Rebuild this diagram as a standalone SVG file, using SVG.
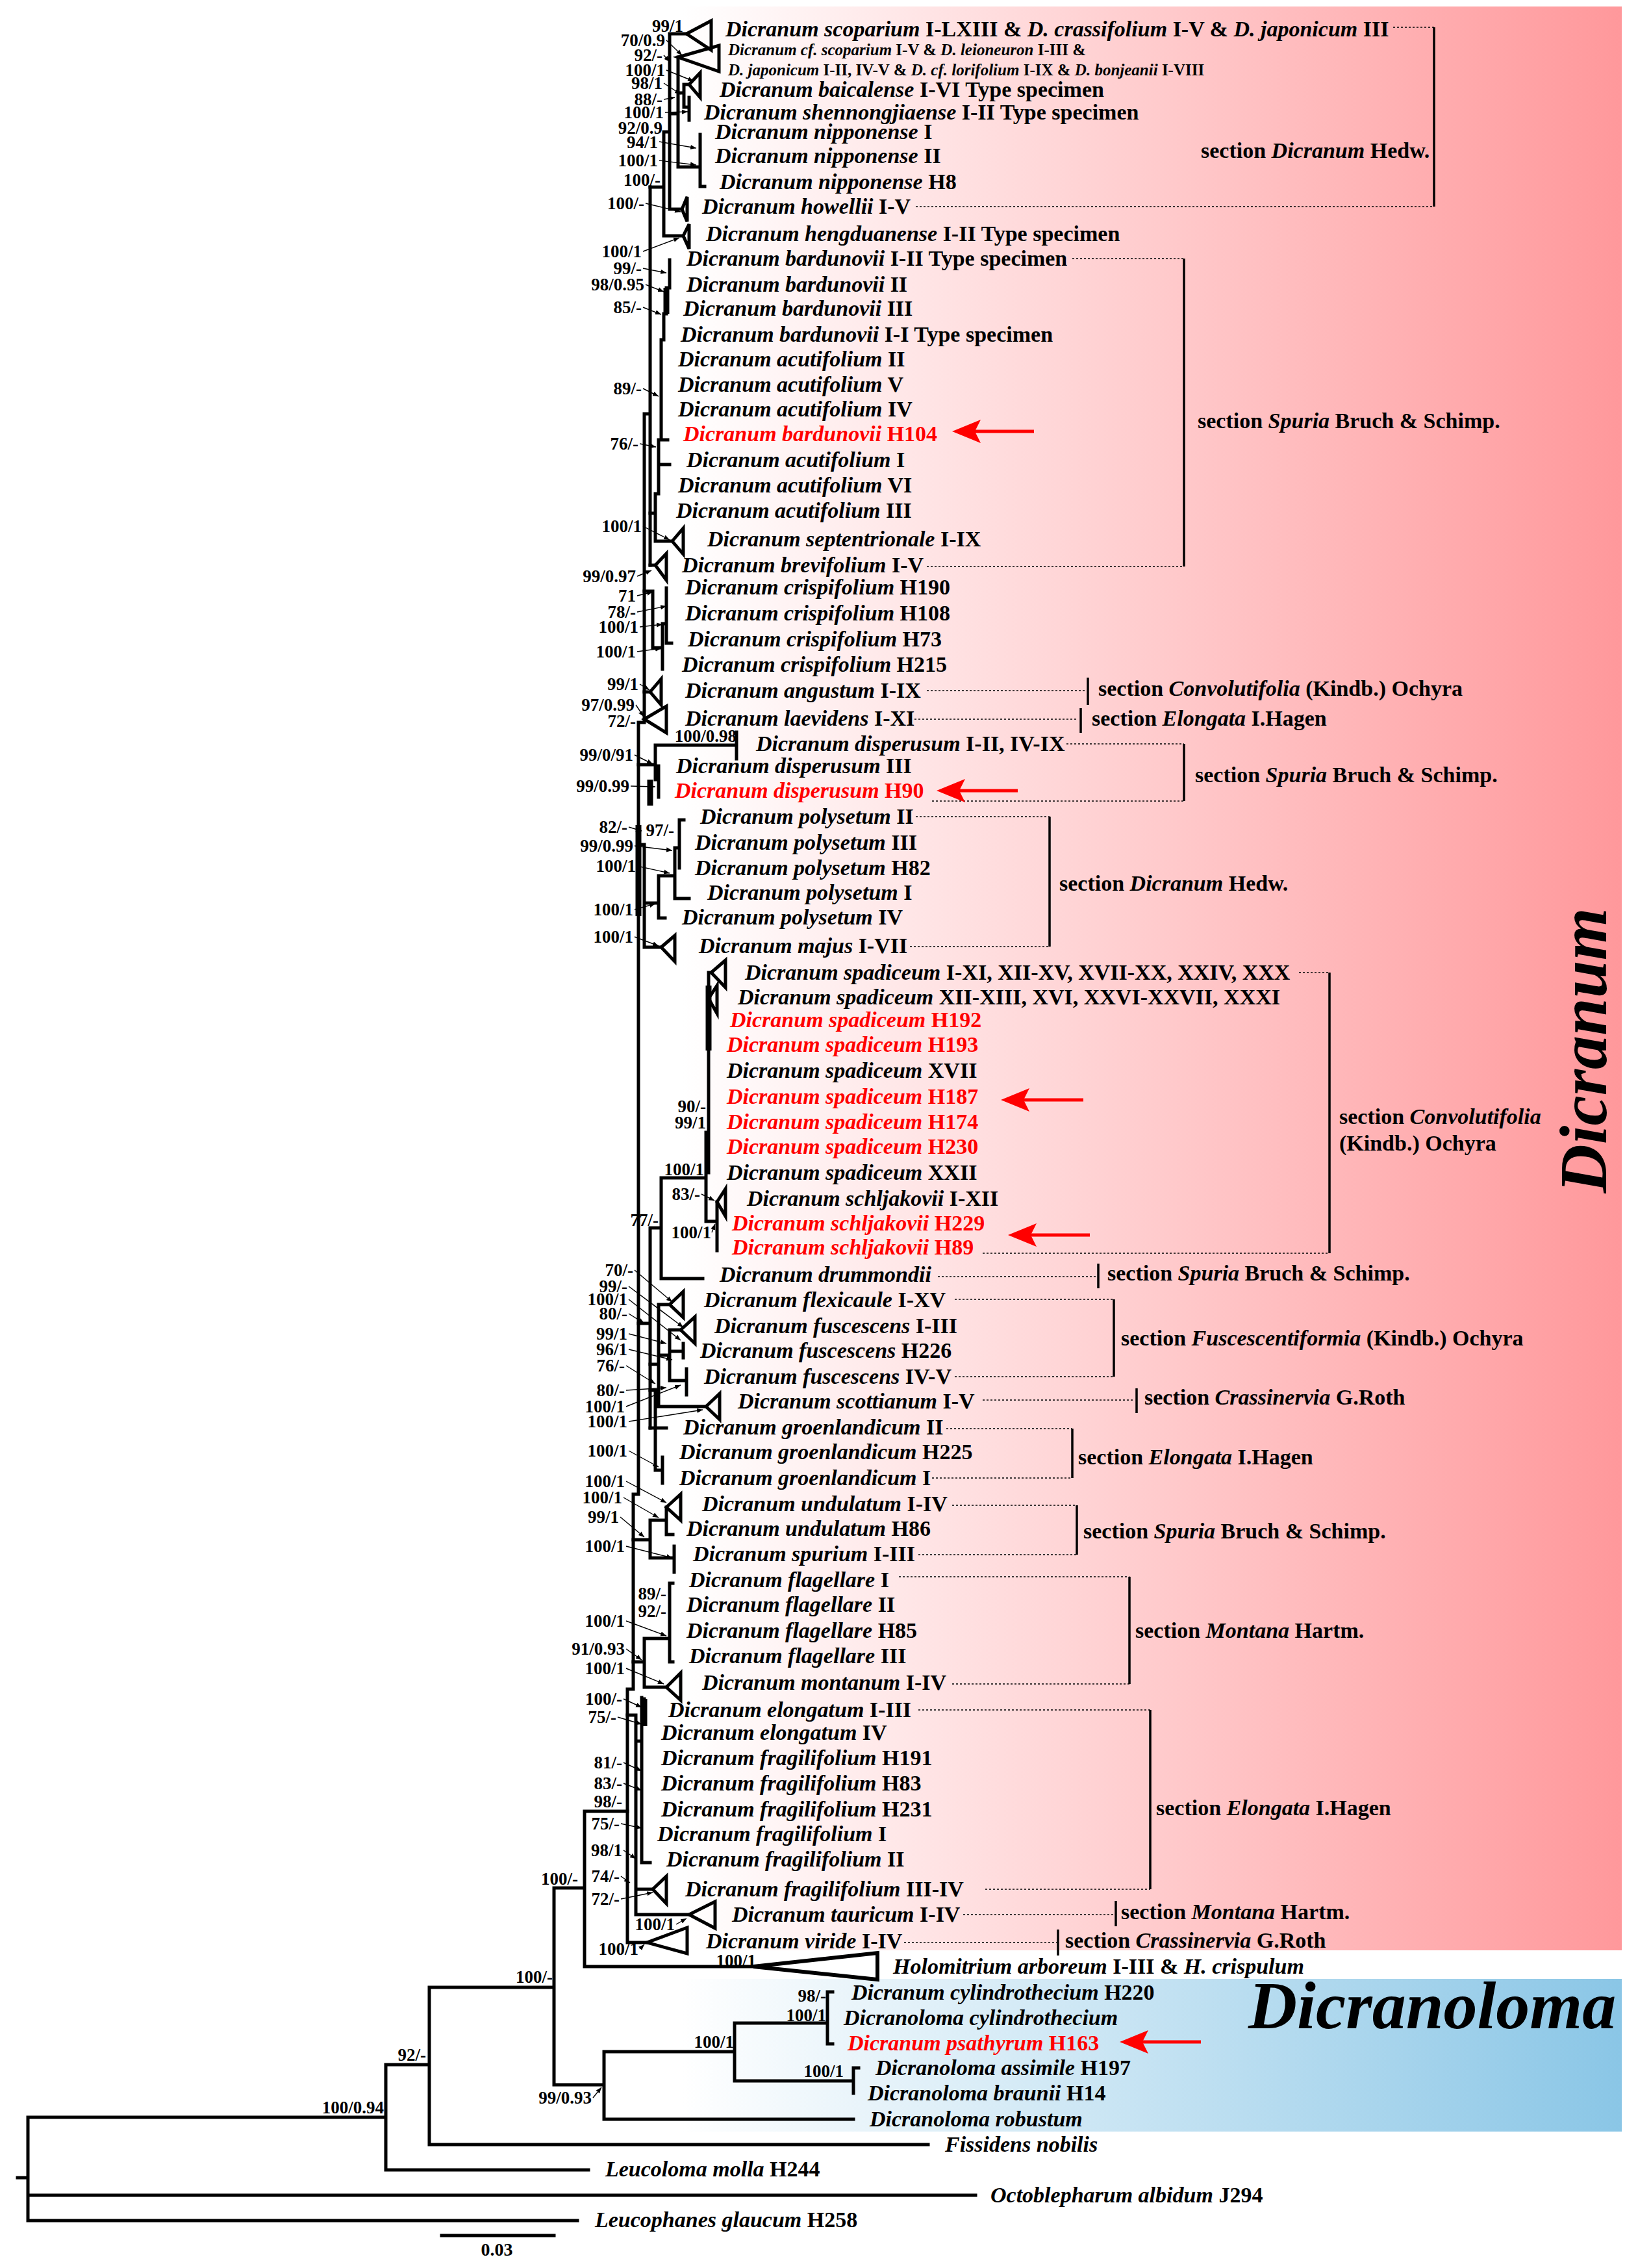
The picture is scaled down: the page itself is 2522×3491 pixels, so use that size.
<svg xmlns="http://www.w3.org/2000/svg" width="2522" height="3491" viewBox="0 0 2522 3491">
<defs>
<linearGradient id="gp" x1="1050" y1="0" x2="2497" y2="0" gradientUnits="userSpaceOnUse"><stop offset="0" stop-color="#ffffff"/><stop offset="1" stop-color="#ff989b"/></linearGradient>
<linearGradient id="gb" x1="1050" y1="0" x2="2497" y2="0" gradientUnits="userSpaceOnUse"><stop offset="0" stop-color="#ffffff"/><stop offset="1" stop-color="#8ac6e6"/></linearGradient>
<marker id="ah" viewBox="0 0 10 10" refX="10" refY="5" markerWidth="9" markerHeight="9" orient="auto" markerUnits="userSpaceOnUse"><path d="M0,1 L10,5 L0,9 z" fill="#000"/></marker>
<style>
text{font-family:"Liberation Serif","Times New Roman",serif;font-weight:bold;fill:#000}
.lf{font-size:34px}
.ls{font-size:25px}
.i{font-style:italic}
.red{fill:#ff0000}
.s{font-size:27px;text-anchor:end}
.br{fill:none;stroke:#000;stroke-width:5;stroke-linecap:square}
.tk{fill:none;stroke:#000;stroke-width:9}
.tri{fill:none;stroke:#000;stroke-width:5;stroke-linejoin:miter}
.ar{fill:none;stroke:#000;stroke-width:1.4;marker-end:url(#ah)}
.dot{fill:none;stroke:#000;stroke-width:1.6;stroke-dasharray:3 3}
.bk{fill:none;stroke:#000;stroke-width:3.5}
.sec{font-size:34px}
.big{font-size:104px;font-style:italic}
.rar{fill:#ff0000}
.rsh{stroke:#ff0000;stroke-width:5}
</style>
</defs>
<rect width="2522" height="3491" fill="#ffffff"/>
<rect x="900" y="10" width="1597" height="2992" fill="url(#gp)"/>
<rect x="900" y="3046" width="1597" height="235" fill="url(#gb)"/>

<g id="connectors">
<path class="br" d="M27,3352H43 M43,3259V3418 M43,3259H594 M43,3379H1502 M43,3418H889 M594,3178V3340 M594,3340H906 M594,3178H661 M661,3059V3301 M661,3301H1429 M661,3059H853 M853,2906V3209 M853,2906H900 M853,3209H930 M930,3158V3262 M930,3158H1131 M930,3262H1314 M1131,3114V3203 M1131,3114H1274 M1131,3203H1314 M1282,3066H1274V3146H1282 M1322,3183H1314V3222 M900,2788V3027 M900,3027H1160 M900,2788H966"/>
<path class="br" d="M1001,288V870 M1001,637H992V1112H983V2300H975V2600H966V2990H996"/>
<path class="br" d="M1001,288H1022 M1022,203V363 M1022,363H1052 M1022,203H1031 M1031,52V322 M1031,52H1057 M1031,322H1050 M1031,175H1044 M1044,88V257 M1044,257H1078 M1078,207V287H1085 M1044,143H1053 M1053,130V165 M1053,130H1061 M1053,165H1061 M1061,150V185"/>
<path class="br" d="M1031,400V443H1026V483H1022V523H1018V677H1014V760H1009V833 M1018,677H1028 M1014,715H1031 M1009,833H1035 M1001,790H1009 M1001,870H1009"/>
<path class="br" d="M992,910H1005V997H1020 M1020,960V1030 M1020,960H1026 M1026,905V990H1034 M992,1065H1001"/>
<path class="br" d="M983,1177H1009 M1009,1147V1200 M1009,1147H1134 M1134,1127V1168 M1009,1200H1014 M1014,1179V1227"/>
<path class="br" d="M983,1300H992V1458 M992,1390H1014 M1014,1348V1413H1024 M1014,1348H1039 M1039,1305V1383H1061 M1039,1305H1046 M1046,1262V1336 M1046,1262H1053 M992,1458H1018"/>
<path class="br" d="M983,2037H1001 M1001,1890V2198 M1001,1890H1018 M1018,1813V1968 M1018,1968H1082 M1018,1813H1087 M1087,1743V1880 M1087,1743H1091 M1091,1497V1805 M1091,1497H1095 M1087,1880H1104 M1104,1850V1925"/>
<path class="br" d="M1001,2100H1014 M1014,2008V2165 M1014,2008H1031 M1014,2086H1031 M1031,2047V2125 M1031,2047H1048 M1031,2080H1052 M1052,2068V2090 M1031,2125H1057 M1057,2107V2147 M1014,2165H1087 M1001,2198H1026 M1001,2140H1009 M1009,2140V2263H1020 M1020,2243V2283"/>
<path class="br" d="M975,2370H1001 M1001,2340V2398 M1001,2340H1026 M1026,2320V2362H1036 M1001,2398H1038 M1038,2380V2420 M975,2558H992 M992,2522V2597 M992,2522H1031 M1036,2437H1031V2558H1036 M992,2597H1026"/>
<path class="br" d="M966,2640H979 M979,2640V2947 M979,2947H1061 M979,2680H988 M988,2613V2867H1001 M988,2615H992 M979,2908H1005"/>
<path class="tk" d="M1091,1517V1617 M983,1270V1410 M992,2615V2657 M1001,1200V1240 M1026,443V483"/>
<g class="tri">
<path d="M1057,52L1095,32L1095,77Z"/>
<path d="M1044,88L1107,70L1107,110Z"/>
<path d="M1061,130L1078,112L1078,150Z"/>
<path d="M1050,322L1058,303L1058,341Z"/>
<path d="M1052,363L1061,345L1061,383Z"/>
<path d="M1035,833L1052,813L1052,853Z"/>
<path d="M1009,870L1026,852L1026,893Z"/>
<path d="M1001,1065L1018,1045L1018,1085Z"/>
<path d="M992,1107L1026,1087L1026,1128Z"/>
<path d="M1018,1458L1039,1440L1039,1480Z"/>
<path d="M1095,1497L1117,1478L1117,1520Z"/>
<path d="M1091,1537L1104,1517L1104,1560Z"/>
<path d="M1104,1850L1117,1830L1117,1872Z"/>
<path d="M1031,2008L1052,1988L1052,2028Z"/>
<path d="M1048,2047L1070,2027L1070,2068Z"/>
<path d="M1087,2165L1108,2145L1108,2185Z"/>
<path d="M1026,2320L1048,2300L1048,2340Z"/>
<path d="M1026,2597L1048,2575L1048,2617Z"/>
<path d="M1005,2908L1026,2888L1026,2930Z"/>
<path d="M1061,2947L1101,2927L1101,2968Z"/>
<path d="M996,2990L1058,2967L1058,3007Z"/>
<path d="M1160,3027L1351,3006L1351,3047Z" stroke-width="6"/>
</g>
<g id="support-arrows">
<path class="ar" d="M1026,62L1050,85"/><path class="ar" d="M1022,85L1031,95"/><path class="ar" d="M1026,108L1068,125"/><path class="ar" d="M1022,128L1048,145"/><path class="ar" d="M1022,153L1039,150"/><path class="ar" d="M1024,173L1059,172"/><path class="ar" d="M1015,218L1072,228"/><path class="ar" d="M1015,247L1072,254"/><path class="ar" d="M994,313L1048,326"/><path class="ar" d="M990,387L1046,366"/>
<path class="ar" d="M990,413L1026,420"/><path class="ar" d="M994,438L1022,449"/><path class="ar" d="M990,473L1018,484"/><path class="ar" d="M990,598L1014,610"/><path class="ar" d="M985,683L1010,688"/><path class="ar" d="M990,810L1031,831"/><path class="ar" d="M981,887L1003,878"/><path class="ar" d="M981,917L1005,911"/><path class="ar" d="M981,942L1026,933"/><path class="ar" d="M985,965L1020,961"/><path class="ar" d="M981,1003L1018,998"/><path class="ar" d="M985,1053L1000,1062"/><path class="ar" d="M979,1085L991,1103"/>
<path class="ar" d="M977,1162L1005,1176"/><path class="ar" d="M971,1210L1009,1211"/><path class="ar" d="M968,1273L988,1279"/><path class="ar" d="M977,1302L1035,1309"/><path class="ar" d="M981,1333L1031,1344"/><path class="ar" d="M977,1400L1009,1391"/><path class="ar" d="M977,1442L1014,1456"/><path class="ar" d="M1080,1838L1100,1848"/><path class="ar" d="M1096,1897L1101,1884"/>
<path class="ar" d="M977,1955L1035,2004"/><path class="ar" d="M968,1980L1052,2043"/><path class="ar" d="M968,2000L1048,2063"/><path class="ar" d="M968,2022L992,2037"/><path class="ar" d="M968,2053L1026,2068"/><path class="ar" d="M968,2077L1035,2093"/><path class="ar" d="M964,2102L1009,2130"/><path class="ar" d="M964,2140L1026,2136"/><path class="ar" d="M964,2165L1048,2132"/><path class="ar" d="M968,2188L1082,2170"/><path class="ar" d="M968,2233L1014,2258"/><path class="ar" d="M964,2280L1026,2313"/><path class="ar" d="M960,2305L1014,2336"/><path class="ar" d="M955,2335L992,2366"/><path class="ar" d="M964,2380L1035,2398"/>
<path class="ar" d="M964,2495L1026,2518"/><path class="ar" d="M964,2538L988,2555"/><path class="ar" d="M964,2568L1022,2592"/><path class="ar" d="M960,2615L988,2628"/><path class="ar" d="M951,2643L988,2654"/><path class="ar" d="M960,2713L988,2726"/><path class="ar" d="M960,2745L988,2756"/><path class="ar" d="M956,2807L988,2814"/><path class="ar" d="M960,2848L979,2861"/><path class="ar" d="M956,2888L970,2898"/><path class="ar" d="M956,2923L1005,2913"/><path class="ar" d="M1041,2962L1057,2953"/><path class="ar" d="M985,3000L992,2993"/><path class="ar" d="M913,3229L926,3213"/>
</g>
<g id="section-brackets">
<path class="dot" d="M2145,42H2208 M1410,318H2208 M1651,398H1823 M1427,872H1823 M1427,1063H1670 M1408,1107H1660 M1642,1145H1823 M1435,1233H1823 M1410,1257H1616 M1401,1457H1616 M2000,1497H2047 M1513,1929H2047 M1444,1965H1688 M1470,2000H1715 M1470,2119H1715 M1513,2155H1747 M1457,2199H1651 M1435,2275H1651 M1466,2317H1658 M1414,2393H1658 M1384,2427H1739 M1466,2592H1739 M1414,2632H1771 M1517,2908H1771 M1483,2947H1716 M1392,2990H1627"/>
<path class="bk" d="M2208,42V318 M1823,398V872 M1675,1043V1085 M1664,1090V1128 M1823,1145V1233 M1616,1257V1457 M2047,1497V1929 M1691,1945V1983 M1715,2000V2119 M1750,2137V2175 M1651,2199V2275 M1658,2317V2393 M1739,2427V2592 M1771,2632V2908 M1718,2926V2965 M1629,2970V3010"/>
</g>
</g>

<g id="support-values">
<text class="s" x="1052" y="49">99/1</text><text class="s" x="1024" y="71">70/0.9</text><text class="s" x="1020" y="94">92/-</text><text class="s" x="1024" y="117">100/1</text><text class="s" x="1020" y="137">98/1</text><text class="s" x="1020" y="162">88/-</text><text class="s" x="1022" y="182">100/1</text><text class="s" x="1020" y="206">92/0.9</text><text class="s" x="1013" y="228">94/1</text><text class="s" x="1013" y="256">100/1</text><text class="s" x="1017" y="286">100/-</text><text class="s" x="992" y="322">100/-</text><text class="s" x="988" y="396">100/1</text>
<text class="s" x="988" y="422">99/-</text><text class="s" x="992" y="447">98/0.95</text><text class="s" x="988" y="482">85/-</text><text class="s" x="988" y="607">89/-</text><text class="s" x="983" y="692">76/-</text><text class="s" x="988" y="819">100/1</text><text class="s" x="979" y="896">99/0.97</text><text class="s" x="979" y="926">71</text><text class="s" x="979" y="951">78/-</text><text class="s" x="983" y="974">100/1</text><text class="s" x="979" y="1012">100/1</text><text class="s" x="983" y="1062">99/1</text><text class="s" x="977" y="1094">97/0.99</text><text class="s" x="979" y="1119">72/-</text>
<text class="s" x="1134" y="1142">100/0.98</text><text class="s" x="975" y="1171">99/0/91</text><text class="s" x="969" y="1219">99/0.99</text><text class="s" x="966" y="1282">82/-</text><text class="s" x="1038" y="1287">97/-</text><text class="s" x="975" y="1311">99/0.99</text><text class="s" x="979" y="1342">100/1</text><text class="s" x="975" y="1409">100/1</text><text class="s" x="975" y="1451">100/1</text>
<text class="s" x="1087" y="1712">90/-</text><text class="s" x="1087" y="1737">99/1</text><text class="s" x="1084" y="1809">100/1</text><text class="s" x="1078" y="1847">83/-</text><text class="s" x="1014" y="1887">77/-</text><text class="s" x="1095" y="1906">100/1</text>
<text class="s" x="975" y="1964">70/-</text><text class="s" x="966" y="1989">99/-</text><text class="s" x="966" y="2009">100/1</text><text class="s" x="966" y="2031">80/-</text><text class="s" x="966" y="2062">99/1</text><text class="s" x="966" y="2086">96/1</text><text class="s" x="962" y="2111">76/-</text><text class="s" x="962" y="2149">80/-</text><text class="s" x="962" y="2174">100/1</text><text class="s" x="966" y="2197">100/1</text><text class="s" x="966" y="2242">100/1</text><text class="s" x="962" y="2289">100/1</text><text class="s" x="958" y="2314">100/1</text><text class="s" x="953" y="2344">99/1</text><text class="s" x="962" y="2389">100/1</text>
<text class="s" x="1026" y="2462">89/-</text><text class="s" x="1026" y="2489">92/-</text><text class="s" x="962" y="2504">100/1</text><text class="s" x="962" y="2547">91/0.93</text><text class="s" x="962" y="2577">100/1</text><text class="s" x="958" y="2624">100/-</text><text class="s" x="949" y="2652">75/-</text><text class="s" x="958" y="2722">81/-</text><text class="s" x="958" y="2754">83/-</text><text class="s" x="958" y="2782">98/-</text><text class="s" x="954" y="2816">75/-</text><text class="s" x="958" y="2857">98/1</text><text class="s" x="954" y="2897">74/-</text><text class="s" x="954" y="2932">72/-</text><text class="s" x="890" y="2901">100/-</text><text class="s" x="1039" y="2971">100/1</text><text class="s" x="983" y="3009">100/1</text><text class="s" x="1164" y="3027">100/1</text>
<text class="s" x="1272" y="3081">98/-</text><text class="s" x="1272" y="3111">100/1</text><text class="s" x="1130" y="3152">100/1</text><text class="s" x="1299" y="3197">100/1</text><text class="s" x="911" y="3238">99/0.93</text><text class="s" x="851" y="3052">100/-</text><text class="s" x="656" y="3172">92/-</text><text class="s" x="591" y="3253">100/0.94</text>
</g>

<g id="leaves">
<g id="n01"><text class="lf" x="1117" y="56"><tspan class="i">Dicranum scoparium</tspan> I-LXIII &amp; <tspan class="i">D. crassifolium</tspan> I-V &amp; <tspan class="i">D. japonicum</tspan> III</text></g>
<g id="n02"><text class="ls" x="1121" y="85"><tspan class="i">Dicranum cf. scoparium</tspan> I-V &amp; <tspan class="i">D. leioneuron</tspan> I-III &amp;</text></g>
<g id="n03"><text class="ls" x="1121" y="116"><tspan class="i">D. japonicum</tspan> I-II, IV-V &amp; <tspan class="i">D. cf. lorifolium</tspan>  I-IX &amp; <tspan class="i">D. bonjeanii</tspan> I-VIII</text></g>
<g id="n04"><text class="lf" x="1108" y="149"><tspan class="i">Dicranum baicalense</tspan> I-VI Type specimen</text></g>
<g id="n05"><text class="lf" x="1084" y="184"><tspan class="i">Dicranum shennongjiaense</tspan> I-II Type specimen</text></g>
<g id="n06"><text class="lf" x="1101" y="214"><tspan class="i">Dicranum nipponense</tspan> I</text></g>
<g id="n07"><text class="lf" x="1101" y="251"><tspan class="i">Dicranum nipponense</tspan> II</text></g>
<g id="n08"><text class="lf" x="1108" y="291"><tspan class="i">Dicranum nipponense</tspan> H8</text></g>
<g id="n09"><text class="lf" x="1081" y="329"><tspan class="i">Dicranum howellii</tspan> I-V</text></g>
<g id="n10"><text class="lf" x="1087" y="371"><tspan class="i">Dicranum hengduanense</tspan> I-II Type specimen</text></g>
<g id="n11"><text class="lf" x="1057" y="409"><tspan class="i">Dicranum bardunovii</tspan> I-II Type specimen</text></g>
<g id="n12"><text class="lf" x="1057" y="449"><tspan class="i">Dicranum bardunovii</tspan> II</text></g>
<g id="n13"><text class="lf" x="1052" y="486"><tspan class="i">Dicranum bardunovii</tspan> III</text></g>
<g id="n14"><text class="lf" x="1048" y="526"><tspan class="i">Dicranum bardunovii</tspan> I-I Type specimen</text></g>
<g id="n15"><text class="lf" x="1044" y="564"><tspan class="i">Dicranum acutifolium</tspan> II</text></g>
<g id="n16"><text class="lf" x="1044" y="603"><tspan class="i">Dicranum acutifolium</tspan> V</text></g>
<g id="n17"><text class="lf" x="1044" y="641"><tspan class="i">Dicranum acutifolium</tspan> IV</text></g>
<g id="n18"><text class="lf red" x="1052" y="679"><tspan class="i">Dicranum bardunovii</tspan> H104</text></g>
<g id="n19"><text class="lf" x="1057" y="719"><tspan class="i">Dicranum acutifolium</tspan> I</text></g>
<g id="n20"><text class="lf" x="1044" y="758"><tspan class="i">Dicranum acutifolium</tspan> VI</text></g>
<g id="n21"><text class="lf" x="1041" y="797"><tspan class="i">Dicranum acutifolium</tspan> III</text></g>
<g id="n22"><text class="lf" x="1089" y="841"><tspan class="i">Dicranum septentrionale</tspan> I-IX</text></g>
<g id="n23"><text class="lf" x="1050" y="881"><tspan class="i">Dicranum brevifolium</tspan> I-V</text></g>
<g id="n24"><text class="lf" x="1055" y="915"><tspan class="i">Dicranum crispifolium</tspan> H190</text></g>
<g id="n25"><text class="lf" x="1055" y="955"><tspan class="i">Dicranum crispifolium</tspan> H108</text></g>
<g id="n26"><text class="lf" x="1059" y="995"><tspan class="i">Dicranum crispifolium</tspan> H73</text></g>
<g id="n27"><text class="lf" x="1050" y="1034"><tspan class="i">Dicranum crispifolium</tspan> H215</text></g>
<g id="n28"><text class="lf" x="1055" y="1074"><tspan class="i">Dicranum angustum</tspan> I-IX</text></g>
<g id="n29"><text class="lf" x="1055" y="1117"><tspan class="i">Dicranum laevidens</tspan> I-XI</text></g>
<g id="n30"><text class="lf" x="1164" y="1156"><tspan class="i">Dicranum disperusum</tspan> I-II, IV-IX</text></g>
<g id="n31"><text class="lf" x="1041" y="1190"><tspan class="i">Dicranum disperusum</tspan> III</text></g>
<g id="n32"><text class="lf red" x="1039" y="1228"><tspan class="i">Dicranum disperusum</tspan> H90</text></g>
<g id="n33"><text class="lf" x="1078" y="1268"><tspan class="i">Dicranum polysetum</tspan> II</text></g>
<g id="n34"><text class="lf" x="1070" y="1308"><tspan class="i">Dicranum polysetum</tspan> III</text></g>
<g id="n35"><text class="lf" x="1070" y="1347"><tspan class="i">Dicranum polysetum</tspan> H82</text></g>
<g id="n36"><text class="lf" x="1089" y="1385"><tspan class="i">Dicranum polysetum</tspan> I</text></g>
<g id="n37"><text class="lf" x="1050" y="1423"><tspan class="i">Dicranum polysetum</tspan> IV</text></g>
<g id="n38"><text class="lf" x="1076" y="1467"><tspan class="i">Dicranum majus</tspan> I-VII</text></g>
<g id="n39"><text class="lf" x="1147" y="1508"><tspan class="i">Dicranum spadiceum</tspan> I-XI, XII-XV, XVII-XX, XXIV, XXX</text></g>
<g id="n40"><text class="lf" x="1136" y="1546"><tspan class="i">Dicranum spadiceum</tspan> XII-XIII, XVI, XXVI-XXVII, XXXI</text></g>
<g id="n41"><text class="lf red" x="1124" y="1581"><tspan class="i">Dicranum spadiceum</tspan> H192</text></g>
<g id="n42"><text class="lf red" x="1119" y="1619"><tspan class="i">Dicranum spadiceum</tspan> H193</text></g>
<g id="n43"><text class="lf" x="1119" y="1659"><tspan class="i">Dicranum spadiceum</tspan> XVII</text></g>
<g id="n44"><text class="lf red" x="1119" y="1699"><tspan class="i">Dicranum spadiceum</tspan> H187</text></g>
<g id="n45"><text class="lf red" x="1119" y="1738"><tspan class="i">Dicranum spadiceum</tspan> H174</text></g>
<g id="n46"><text class="lf red" x="1119" y="1776"><tspan class="i">Dicranum spadiceum</tspan> H230</text></g>
<g id="n47"><text class="lf" x="1119" y="1816"><tspan class="i">Dicranum spadiceum</tspan> XXII</text></g>
<g id="n48"><text class="lf" x="1150" y="1856"><tspan class="i">Dicranum schljakovii</tspan> I-XII</text></g>
<g id="n49"><text class="lf red" x="1127" y="1894"><tspan class="i">Dicranum schljakovii</tspan> H229</text></g>
<g id="n50"><text class="lf red" x="1127" y="1931"><tspan class="i">Dicranum schljakovii</tspan> H89</text></g>
<g id="n51"><text class="lf" x="1108" y="1973"><tspan class="i">Dicranum drummondii</tspan></text></g>
<g id="n52"><text class="lf" x="1084" y="2012"><tspan class="i">Dicranum flexicaule</tspan> I-XV</text></g>
<g id="n53"><text class="lf" x="1100" y="2052"><tspan class="i">Dicranum fuscescens</tspan> I-III</text></g>
<g id="n54"><text class="lf" x="1078" y="2090"><tspan class="i">Dicranum fuscescens</tspan> H226</text></g>
<g id="n55"><text class="lf" x="1084" y="2130"><tspan class="i">Dicranum fuscescens</tspan> IV-V</text></g>
<g id="n56"><text class="lf" x="1136" y="2168"><tspan class="i">Dicranum scottianum</tspan> I-V</text></g>
<g id="n57"><text class="lf" x="1052" y="2208"><tspan class="i">Dicranum groenlandicum</tspan> II</text></g>
<g id="n58"><text class="lf" x="1046" y="2246"><tspan class="i">Dicranum groenlandicum</tspan> H225</text></g>
<g id="n59"><text class="lf" x="1046" y="2286"><tspan class="i">Dicranum groenlandicum</tspan> I</text></g>
<g id="n60"><text class="lf" x="1081" y="2326"><tspan class="i">Dicranum undulatum</tspan> I-IV</text></g>
<g id="n61"><text class="lf" x="1057" y="2364"><tspan class="i">Dicranum undulatum</tspan> H86</text></g>
<g id="n62"><text class="lf" x="1067" y="2403"><tspan class="i">Dicranum spurium</tspan> I-III</text></g>
<g id="n63"><text class="lf" x="1061" y="2443"><tspan class="i">Dicranum flagellare</tspan> I</text></g>
<g id="n64"><text class="lf" x="1057" y="2481"><tspan class="i">Dicranum flagellare</tspan> II</text></g>
<g id="n65"><text class="lf" x="1057" y="2521"><tspan class="i">Dicranum flagellare</tspan> H85</text></g>
<g id="n66"><text class="lf" x="1061" y="2560"><tspan class="i">Dicranum flagellare</tspan> III</text></g>
<g id="n67"><text class="lf" x="1081" y="2601"><tspan class="i">Dicranum montanum</tspan> I-IV</text></g>
<g id="n68"><text class="lf" x="1029" y="2643"><tspan class="i">Dicranum elongatum</tspan> I-III</text></g>
<g id="n69"><text class="lf" x="1018" y="2678"><tspan class="i">Dicranum elongatum</tspan> IV</text></g>
<g id="n70"><text class="lf" x="1018" y="2717"><tspan class="i">Dicranum fragilifolium</tspan> H191</text></g>
<g id="n71"><text class="lf" x="1018" y="2756"><tspan class="i">Dicranum fragilifolium</tspan> H83</text></g>
<g id="n72"><text class="lf" x="1018" y="2796"><tspan class="i">Dicranum fragilifolium</tspan> H231</text></g>
<g id="n73"><text class="lf" x="1012" y="2834"><tspan class="i">Dicranum fragilifolium</tspan> I</text></g>
<g id="n74"><text class="lf" x="1026" y="2873"><tspan class="i">Dicranum fragilifolium</tspan> II</text></g>
<g id="n75"><text class="lf" x="1055" y="2919"><tspan class="i">Dicranum fragilifolium</tspan> III-IV</text></g>
<g id="n76"><text class="lf" x="1127" y="2958"><tspan class="i">Dicranum tauricum</tspan> I-IV</text></g>
<g id="n77"><text class="lf" x="1087" y="2999"><tspan class="i">Dicranum viride</tspan> I-IV</text></g>
<g id="n78"><text class="lf" x="1375" y="3038"><tspan class="i">Holomitrium arboreum</tspan> I-III &amp; <tspan class="i">H. crispulum</tspan></text></g>
<g id="n79"><text class="lf" x="1311" y="3078"><tspan class="i">Dicranum cylindrothecium</tspan> H220</text></g>
<g id="n80"><text class="lf" x="1299" y="3117"><tspan class="i">Dicranoloma cylindrothecium</tspan></text></g>
<g id="n81"><text class="lf red" x="1305" y="3156"><tspan class="i">Dicranum psathyrum</tspan> H163</text></g>
<g id="n82"><text class="lf" x="1348" y="3194"><tspan class="i">Dicranoloma assimile</tspan> H197</text></g>
<g id="n83"><text class="lf" x="1336" y="3233"><tspan class="i">Dicranoloma braunii</tspan> H14</text></g>
<g id="n84"><text class="lf" x="1339" y="3273"><tspan class="i">Dicranoloma robustum</tspan></text></g>
<g id="n85"><text class="lf" x="1455" y="3312"><tspan class="i">Fissidens nobilis</tspan></text></g>
<g id="n86"><text class="lf" x="932" y="3350"><tspan class="i">Leucoloma molla</tspan> H244</text></g>
<g id="n87"><text class="lf" x="1525" y="3390"><tspan class="i">Octoblepharum albidum</tspan> J294</text></g>
<g id="n88"><text class="lf" x="916" y="3428"><tspan class="i">Leucophanes glaucum</tspan> H258</text></g>
</g>

<g id="sections">
<text class="sec" x="1849" y="243">section <tspan class="i">Dicranum</tspan> Hedw.</text>
<text class="sec" x="1844" y="659">section <tspan class="i">Spuria</tspan> Bruch &amp; Schimp.</text>
<text class="sec" x="1691" y="1071">section <tspan class="i">Convolutifolia</tspan> (Kindb.) Ochyra</text>
<text class="sec" x="1681" y="1117">section <tspan class="i">Elongata</tspan> I.Hagen</text>
<text class="sec" x="1840" y="1204">section <tspan class="i">Spuria</tspan> Bruch &amp; Schimp.</text>
<text class="sec" x="1631" y="1371">section <tspan class="i">Dicranum</tspan> Hedw.</text>
<text class="sec" x="2062" y="1730">section <tspan class="i">Convolutifolia</tspan></text>
<text class="sec" x="2062" y="1771">(Kindb.) Ochyra</text>
<text class="sec" x="1705" y="1971">section <tspan class="i">Spuria</tspan> Bruch &amp; Schimp.</text>
<text class="sec" x="1726" y="2071">section <tspan class="i">Fuscescentiformia</tspan> (Kindb.) Ochyra</text>
<text class="sec" x="1762" y="2162">section <tspan class="i">Crassinervia</tspan> G.Roth</text>
<text class="sec" x="1660" y="2254">section <tspan class="i">Elongata</tspan> I.Hagen</text>
<text class="sec" x="1668" y="2368">section <tspan class="i">Spuria</tspan> Bruch &amp; Schimp.</text>
<text class="sec" x="1748" y="2521">section <tspan class="i">Montana</tspan> Hartm.</text>
<text class="sec" x="1780" y="2794">section <tspan class="i">Elongata</tspan> I.Hagen</text>
<text class="sec" x="1726" y="2954">section <tspan class="i">Montana</tspan> Hartm.</text>
<text class="sec" x="1640" y="2998">section <tspan class="i">Crassinervia</tspan> G.Roth</text>
</g>

<g id="genus-labels">
<text class="big" transform="translate(2473,1617) rotate(-90)" text-anchor="middle">Dicranum</text>
<text class="big" x="1922" y="3122">Dicranoloma</text>
</g>

<g id="red-arrows">
<path class="rsh" d="M1498,664H1592 M1474,1217H1567 M1573,1693H1668 M1584,1901H1678 M1756,3143H1849"/>
<path class="rar" d="M1466,664L1510,646L1501,664L1510,682Z"/>
<path class="rar" d="M1442,1217L1486,1199L1477,1217L1486,1235Z"/>
<path class="rar" d="M1541,1693L1585,1675L1576,1693L1585,1711Z"/>
<path class="rar" d="M1552,1901L1596,1883L1587,1901L1596,1919Z"/>
<path class="rar" d="M1724,3143L1768,3125L1759,3143L1768,3161Z"/>
</g>

<g id="scale-bar">
<path class="br" d="M680,3441H853"/>
<text x="765" y="3472" font-size="28" text-anchor="middle">0.03</text>
</g>
</svg>
